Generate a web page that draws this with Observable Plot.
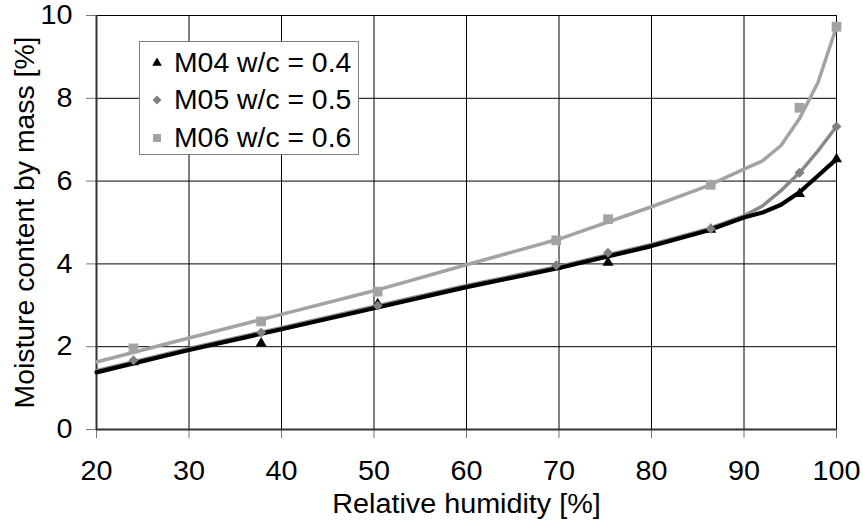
<!DOCTYPE html>
<html>
<head>
<meta charset="utf-8">
<script src="https://cdn.jsdelivr.net/npm/d3@7"></script>
<script src="https://cdn.jsdelivr.net/npm/@observablehq/plot@0.6"></script>
<style>
  html, body { margin: 0; padding: 0; background: white; }
  #wrap { position: relative; width: 863px; height: 524px; font-family: 'Liberation Sans', Arial, sans-serif; }
  #legend { position: absolute; left: 139px; top: 41px; width: 218px; height: 112px; border: 1px solid #808080; background: white; }
  .row { position: absolute; left: 0; height: 30px; display: flex; align-items: center; font-size: 27px; color: black; white-space: nowrap; }
  .row svg { margin-left: 12px; margin-right: 12px; }
  .row span { display: inline-block; transform: scaleX(1.05); transform-origin: left center; }
</style>
</head>
<body>
<div id="wrap"><div id="legend"></div></div>
<script>
// ---- data ----
const rh = [24.0, 37.8, 50.4, 69.7, 75.3, 86.4, 96.0, 100.0];
const m04 = [1.63, 2.08, 3.03, 3.93, 4.03, 4.83, 5.69, 6.53];
const m05 = [1.67, 2.34, 2.99, 3.97, 4.27, 4.85, 6.20, 7.32];
const m06 = [1.96, 2.61, 3.33, 4.57, 5.08, 5.91, 7.77, 9.73];

const fitRH  = [20, 30, 40, 50, 60, 70, 80, 86, 90, 92, 94, 96, 98, 100];
const fitM04 = [1.38, 1.92, 2.42, 2.93, 3.44, 3.90, 4.43, 4.80, 5.12, 5.24, 5.43, 5.73, 6.13, 6.53];
const fitM05 = [1.42, 1.96, 2.46, 2.97, 3.48, 3.94, 4.47, 4.84, 5.16, 5.40, 5.77, 6.20, 6.73, 7.32];
const fitM06 = [1.63, 2.21, 2.78, 3.35, 3.98, 4.60, 5.38, 5.88, 6.29, 6.49, 6.86, 7.51, 8.38, 9.73];

const seriesNames = ["M04 w/c = 0.4", "M05 w/c = 0.5", "M06 w/c = 0.6"];
const xTicks = [20, 30, 40, 50, 60, 70, 80, 90, 100];
const yTicks = [0, 2, 4, 6, 8, 10];
const xTitle = "Relative humidity [%]";
const yTitle = "Moisture content by mass [%]";

const colors = { line: ["#000000", "#8a8a8a", "#a3a3a3"], dot: ["#000000", "#808080", "#a3a3a3"] };

const pts = (ys) => rh.map((x, i) => ({ x, y: ys[i] }));
const fit = (ys) => fitRH.map((x, i) => ({ x, y: ys[i] }));

const chart = Plot.plot({
  width: 863,
  height: 524,
  marginLeft: 96,
  marginRight: 27,
  marginTop: 15,
  marginBottom: 95,
  style: { fontFamily: "'Liberation Sans', Arial, sans-serif", fontSize: "27px", background: "white", overflow: "visible" },
  x: { domain: [20, 100] },
  y: { domain: [0, 10] },
  marks: [
    Plot.gridX(xTicks, { stroke: "#000", strokeOpacity: 1, strokeWidth: 1 }),
    Plot.gridY(yTicks, { stroke: "#000", strokeOpacity: 1, strokeWidth: 1 }),
    Plot.axisX(xTicks, { tickSize: 9, tickPadding: 22, stroke: "#777", fill: "black", label: null, fontSize: 27 }),
    Plot.axisY(yTicks, { tickSize: 10, tickPadding: 14, stroke: "#777", fill: "black", label: null, fontSize: 27 }),
    Plot.ruleX([20], { stroke: "#333", strokeWidth: 2 }),
    Plot.ruleY([0], { stroke: "#333", strokeWidth: 2 }),
    Plot.line(fit(fitM06), { x: "x", y: "y", stroke: colors.line[2], strokeWidth: 3.5 }),
    Plot.line(fit(fitM05), { x: "x", y: "y", stroke: colors.line[1], strokeWidth: 3.5 }),
    Plot.line(fit(fitM04), { x: "x", y: "y", stroke: colors.line[0], strokeWidth: 4.2 }),
    Plot.dot(pts(m04), { x: "x", y: "y", symbol: "triangle", r: 4.1, fill: colors.dot[0], stroke: "none" }),
    Plot.dot(pts(m05), { x: "x", y: "y", symbol: "diamond2", r: 4.5, fill: colors.dot[1], stroke: "none" }),
    Plot.dot(pts(m06), { x: "x", y: "y", symbol: "square", r: 5.5, fill: colors.dot[2], stroke: "none" }),
    Plot.text([xTitle], { frameAnchor: "bottom", dy: 83, lineAnchor: "bottom", textAnchor: "middle", fontSize: 27, fill: "black" }),
    Plot.text([yTitle], { frameAnchor: "left", dx: -63, dy: 0, rotate: -90, textAnchor: "middle", lineAnchor: "bottom", fontSize: 27, fill: "black" })
  ]
});
document.getElementById("wrap").prepend(chart);

// slight horizontal widening of the texts, as in the reference
chart.querySelectorAll("text").forEach((t) => {
  if (t.querySelector("tspan")) return;
  const len = t.getComputedTextLength();
  if (!len) return;
  const isY = t.textContent === yTitle;
  t.setAttribute("textLength", isY ? 372 : len * 1.065);
  t.setAttribute("lengthAdjust", "spacingAndGlyphs");
});

// legend (inside the plot area, like the reference)
const legend = document.getElementById("legend");
const symbols = [d3.symbolTriangle, d3.symbolDiamond2, d3.symbolSquare];
const sizes = [40, 50, 64];
const rowTops = [6, 43, 81];
seriesNames.forEach((name, i) => {
  const row = document.createElement("div");
  row.className = "row";
  row.style.top = rowTops[i] + "px";
  const svg = d3.create("svg").attr("width", 10).attr("height", 10).attr("viewBox", "-5 -5 10 10");
  svg.append("path").attr("d", d3.symbol(symbols[i], sizes[i])()).attr("fill", colors.dot[i]);
  row.appendChild(svg.node());
  const span = document.createElement("span");
  span.textContent = name;
  row.appendChild(span);
  legend.appendChild(row);
});
</script>
</body>
</html>
